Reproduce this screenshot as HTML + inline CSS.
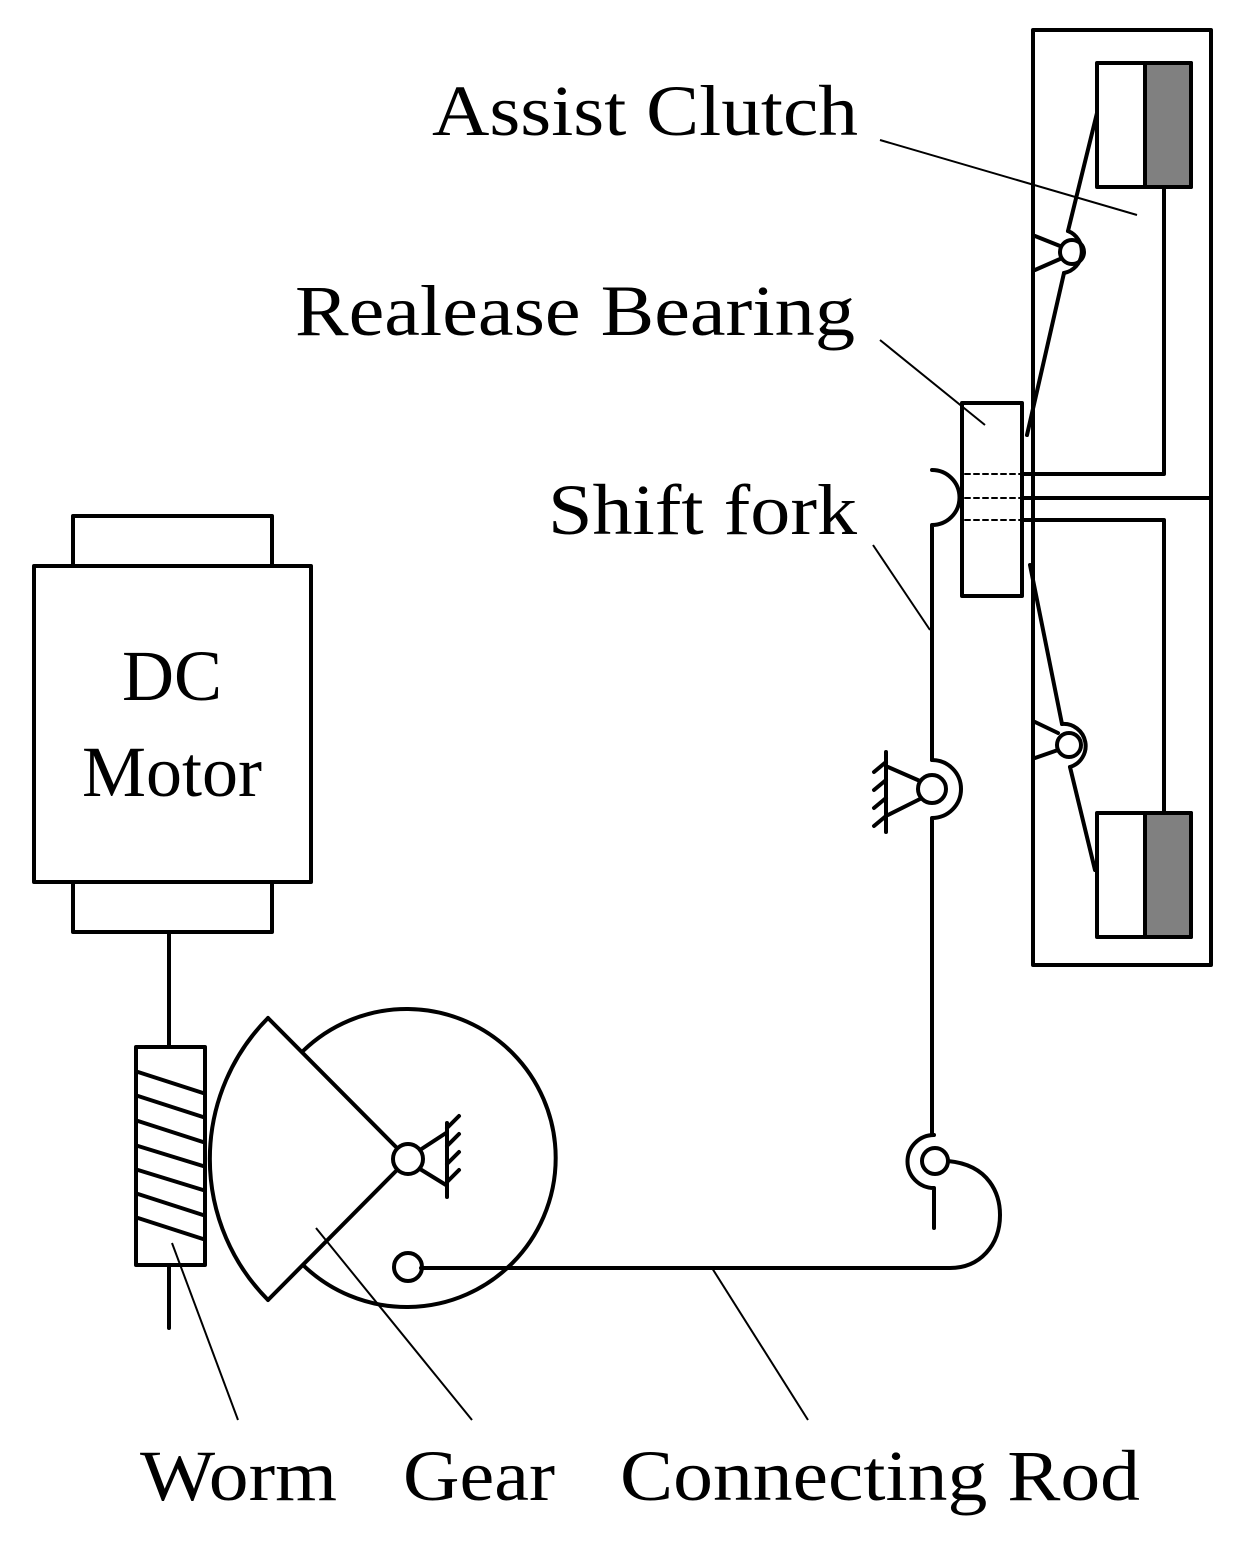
<!DOCTYPE html>
<html><head><meta charset="utf-8"><style>html,body{margin:0;padding:0;background:#fff}svg{display:block}</style></head>
<body>
<svg width="1243" height="1550" viewBox="0 0 1243 1550" xmlns="http://www.w3.org/2000/svg">
<g fill="none" stroke="#000" stroke-width="4" stroke-linecap="round" stroke-linejoin="round">
<path d="M1033 30 H1211 V965 H1033 V30" />
<path d="M1022 498 H1211"/>
<rect x="1097" y="63" width="94" height="124" fill="#fff"/>
<rect x="1145" y="63" width="46" height="124" fill="#808080"/>
<rect x="1097" y="813" width="94" height="124" fill="#fff"/>
<rect x="1145" y="813" width="46" height="124" fill="#808080"/>
<path d="M1164 187 V474 H1022"/>
<path d="M1022 520 H1164 V813"/>
<rect x="962" y="403" width="60" height="193" fill="#fff"/>
<g stroke-width="2" stroke-dasharray="5 4"><path d="M965 474 H1020 M965 498 H1020 M965 520 H1020"/></g>
<!-- top pivot -->
<path d="M1033 205 V296"/>
<path d="M1035 236 L1060 246 M1035 270 L1060 259"/>
<circle cx="1072" cy="252" r="12"/>
<path d="M1068 231 A22 22 0 0 1 1064 273"/>
<path d="M1097 113 L1068 231"/>
<path d="M1064 273 L1027 435"/>
<!-- lower pivot -->
<path d="M1033 708 V768"/>
<path d="M1035 722 L1058 733 M1035 758 L1058 750"/>
<circle cx="1069" cy="745" r="12"/>
<path d="M1062 724 A22 22 0 0 1 1070 767"/>
<path d="M1030 565 L1062 724"/>
<path d="M1070 767 L1095 870"/>
<!-- shift fork -->
<path d="M932 470 A27 27 0 0 1 932 525 V760"/>
<path d="M932 760 A29 29 0 0 1 932 818 V1135"/>
<circle cx="932" cy="789" r="14"/>
<path d="M886 752 V832"/>
<path d="M888 767 L920 781 M888 815 L920 799"/>
<path d="M886 762 L874 772 M886 780 L874 790 M886 798 L874 808 M886 816 L874 826"/>
<path d="M934 1135 A26 26 0 0 0 934 1188 V1228"/>
<circle cx="935" cy="1161" r="13"/>
<path d="M948 1161 C990 1165 1000 1195 1000 1215 C1000 1245 980 1268 950 1268 H421"/>
<circle cx="408" cy="1267" r="14"/>
<!-- gear -->
<path d="M303 1051 A149 149 0 1 1 303 1265"/>
<path d="M268 1018 L397 1148 M268 1300 L397 1170"/>
<path d="M268 1018 A200 200 0 0 0 268 1300"/>
<circle cx="408" cy="1159" r="15"/>
<path d="M420 1150 L446 1133 M420 1169 L446 1185"/>
<path d="M447 1123 V1197"/>
<path d="M447 1128 L459 1116 M447 1146 L459 1134 M447 1164 L459 1152 M447 1182 L459 1170"/>
<!-- worm -->
<rect x="136" y="1047" width="69" height="218" fill="#fff"/>
<path d="M169 932 V1047 M169 1265 V1328"/>
<path d="M138 1072 L203 1093 M138 1096 L203 1117 M138 1121 L203 1142 M138 1146 L203 1166 M138 1170 L203 1190 M138 1194 L203 1215 M138 1218 L203 1239"/>
<!-- motor -->
<rect x="73" y="516" width="199" height="50"/>
<rect x="34" y="566" width="277" height="316"/>
<rect x="73" y="882" width="199" height="50"/>
</g>
<g stroke="#000" stroke-width="2" fill="none">
<path d="M880 140 L1137 215"/>
<path d="M880 340 L985 425"/>
<path d="M873 545 L930 630"/>
<path d="M172 1243 L238 1420"/>
<path d="M316 1228 L472 1420"/>
<path d="M712 1268 L808 1420"/>
</g>
<g font-family="Liberation Serif, serif" font-size="72" fill="#000">
<text x="432" y="135" textLength="426" lengthAdjust="spacingAndGlyphs">Assist Clutch</text>
<text x="295" y="335" textLength="560" lengthAdjust="spacingAndGlyphs">Realease Bearing</text>
<text x="548" y="534" textLength="309" lengthAdjust="spacingAndGlyphs">Shift fork</text>
<text x="172" y="700" text-anchor="middle">DC</text>
<text x="172" y="796" text-anchor="middle">Motor</text>
<text x="140" y="1500" textLength="197" lengthAdjust="spacingAndGlyphs">Worm</text>
<text x="403" y="1500" textLength="152" lengthAdjust="spacingAndGlyphs">Gear</text>
<text x="620" y="1500" textLength="520" lengthAdjust="spacingAndGlyphs">Connecting Rod</text>
</g>
</svg>
</body></html>
